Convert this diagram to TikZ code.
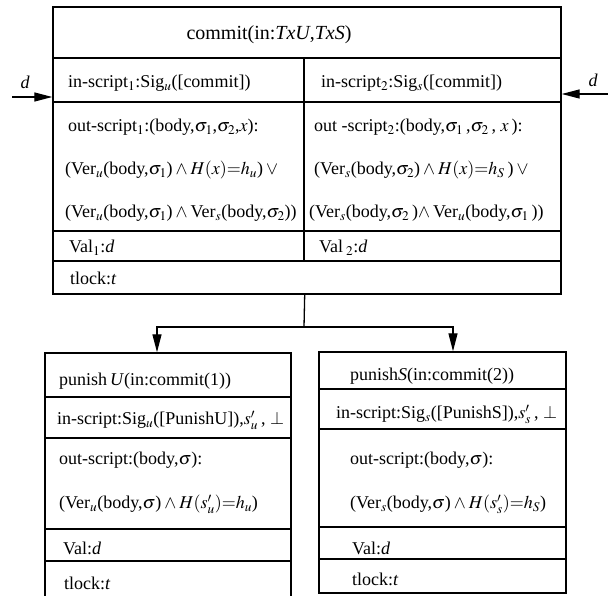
\documentclass[tikz,border=0pt]{standalone}
\usepackage{mathptmx}
\usepackage[no-math]{fontspec}
\setmainfont{Liberation Serif}
\usetikzlibrary{arrows.meta}

\begin{document}
\begin{tikzpicture}[x=1pt,y=-1pt,
    cell/.style={draw,line width=1.4pt,inner sep=0pt},
    lbl/.style={anchor=west,inner sep=0pt,font=\fontsize{18}{20}\selectfont},
    link/.style={line width=1.3pt,-{Triangle[length=18pt,width=9pt]}}]
  \clip (0,0) rectangle (608,596);
  \node[cell,minimum width=508,minimum height=51] (title) at (307,32.5) {};
  \node[cell,minimum width=251,minimum height=44] (inA) at (178.5,80) {};
  \node[cell,minimum width=257,minimum height=44] (inB) at (432.5,80) {};
  \node[cell,minimum width=251,minimum height=129] (outA) at (178.5,166.5) {};
  \node[cell,minimum width=257,minimum height=129] (outB) at (432.5,166.5) {};
  \node[cell,minimum width=251,minimum height=30] (valA) at (178.5,246) {};
  \node[cell,minimum width=257,minimum height=30] (valB) at (432.5,246) {};
  \node[cell,minimum width=508,minimum height=33] (tlock) at (307,277.5) {};

  \node[cell,minimum width=246,minimum height=44] (puTitle) at (168,375) {};
  \node[cell,minimum width=246,minimum height=41] (puIn) at (168,417.5) {};
  \node[cell,minimum width=246,minimum height=91] (puOut) at (168,483.5) {};
  \node[cell,minimum width=246,minimum height=32] (puVal) at (168,545) {};
  \node[cell,minimum width=246,minimum height=49] (puLock) at (168,585.5) {};

  \node[cell,minimum width=247,minimum height=37] (psTitle) at (442.5,370.5) {};
  \node[cell,minimum width=247,minimum height=40] (psIn) at (442.5,409) {};
  \node[cell,minimum width=247,minimum height=98] (psOut) at (442.5,478) {};
  \node[cell,minimum width=247,minimum height=32] (psVal) at (442.5,543) {};
  \node[cell,minimum width=247,minimum height=34] (psLock) at (442.5,576) {};

  \node[lbl,anchor=center,font=\fontsize{20}{22}\selectfont] (tTitle) at (269,35)
        {commit(in:\textit{TxU},\textit{TxS})};
  \node[lbl] (tInA) at (68,83) {in-script$_1$:Sig$_u$([commit])};
  \node[lbl] (tInB) at (321,83) {in-script$_2$:Sig$_s$([commit])};
  \node[lbl] (tOutA1) at (68,127) {out-script$_1$:(body,$\sigma_1$,$\sigma_2$,$x$):};
  \node[lbl] (tOutA2) at (65,170) {(Ver$_u$(body,$\sigma_1$)\,$\wedge$\,$H(x){=}h_u$)\,$\vee$};
  \node[lbl] (tOutA3) at (65,213) {(Ver$_u$(body,$\sigma_1$)\,$\wedge$\,Ver$_s$(body,$\sigma_2$))};
  \node[lbl] (tOutB1) at (314,127) {out -script$_2$:(body,$\sigma_1$\,,$\sigma_2$\,, $x$\,):};
  \node[lbl] (tOutB2) at (314,170) {(Ver$_s$(body,$\sigma_2$)\,$\wedge$\,$H(x){=}h_S$\,)\,$\vee$};
  \node[lbl] (tOutB3) at (309,213) {(Ver$_s$(body,$\sigma_2$\,)$\wedge$\,Ver$_u$(body,$\sigma_1$\,))};
  \node[lbl] (tValA) at (69,248) {Val$_1$:\textit{d}};
  \node[lbl] (tValB) at (319,248) {Val\,$_2$:\textit{d}};
  \node[lbl] (tLock) at (70,278) {tlock:\textit{t}};

  \node[lbl] (tPuTitle) at (59,381) {punish\,\textit{U}(in:commit(1))};
  \node[lbl] (tPuIn) at (57,420) {in-script:Sig$_u$([PunishU]),$s'_u$\,, $\perp$};
  \node[lbl] (tPuOut1) at (59,460) {out-script:(body,$\sigma$):};
  \node[lbl] (tPuOut2) at (59,504) {(Ver$_u$(body,$\sigma$)\,$\wedge$\,$H(s'_u){=}h_u$)};
  \node[lbl] (tPuVal) at (63,548) {Val:\textit{d}};
  \node[lbl] (tPuLock) at (64,583) {tlock:\textit{t}};

  \node[lbl] (tPsTitle) at (350,376) {punish\textit{S}(in:commit(2))};
  \node[lbl] (tPsIn) at (336,414) {in-script:Sig$_s$([PunishS]),$s'_s$\,, $\perp$};
  \node[lbl] (tPsOut1) at (350,460) {out-script:(body,$\sigma$):};
  \node[lbl] (tPsOut2) at (350,504) {(Ver$_s$(body,$\sigma$)\,$\wedge$\,$H(s'_s){=}h_S$)};
  \node[lbl] (tPsVal) at (352,548) {Val:\textit{d}};
  \node[lbl] (tPsLock) at (352,579) {tlock:\textit{t}};

  \coordinate (dL) at (12,97);
  \coordinate (dR) at (608,94);
  \node[lbl,anchor=center,font=\fontsize{18}{20}\selectfont\itshape] (dLbl) at (25,82) {d};
  \node[lbl,anchor=center,font=\fontsize{18}{20}\selectfont\itshape] (dRbl) at (593,80) {d};
  \draw[link] (dL) -- (dL -| inA.west);
  \draw[link] (dR) -- (dR -| inB.east);

  \coordinate (fork) at (304,327);
  \coordinate (forkL) at (157,327);
  \coordinate (forkR) at (453,327);
  \draw[line width=1.3pt] (tlock.south -| inA.east) -- (fork);
  \draw[link] (fork) -| (puTitle.north -| forkL);
  \draw[link] (fork) -| (psTitle.north -| forkR);
\end{tikzpicture}
\end{document}
